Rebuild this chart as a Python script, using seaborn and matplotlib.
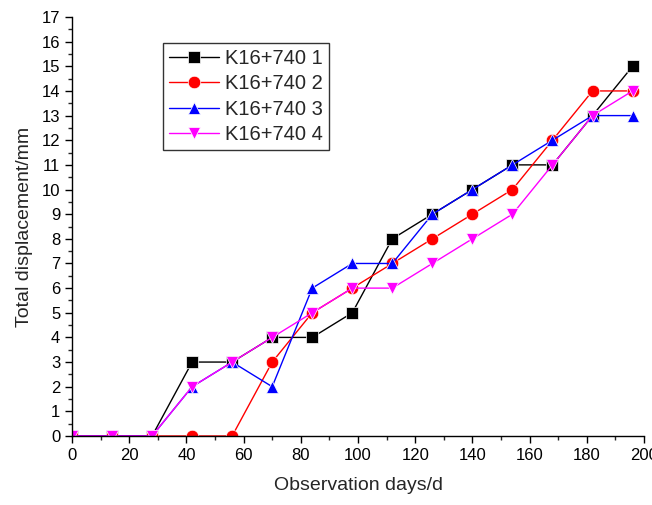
import matplotlib
matplotlib.use("Agg")
import matplotlib.pyplot as plt
import seaborn as sns
import pandas as pd
from matplotlib.ticker import MultipleLocator

days = [0, 14, 28, 42, 56, 70, 84, 98, 112, 126, 140, 154, 168, 182, 196]
s1 = [0, 0, 0, 3, 3, 4, 4, 5, 8, 9, 10, 11, 11, 13, 15]
s2 = [0, 0, 0, 0, 0, 3, 5, 6, 7, 8, 9, 10, 12, 14, 14]
s3 = [0, 0, 0, 2, 3, 2, 6, 7, 7, 9, 10, 11, 12, 13, 13]
s4 = [0, 0, 0, 2, 3, 4, 5, 6, 6, 7, 8, 9, 11, 13, 14]
names = ["K16+740 1", "K16+740 2", "K16+740 3", "K16+740 4"]
colors = ["#000000", "#ff0000", "#0000ff", "#ff00ff"]
markers = ["s", "o", "^", "v"]

rows = []
for n, vals in zip(names, [s1, s2, s3, s4]):
    for d, v in zip(days, vals):
        rows.append({"day": d, "disp": v, "series": n})
df = pd.DataFrame(rows)

sns.set_theme(style="ticks")
plt.rcParams["font.family"] = ["Liberation Sans", "DejaVu Sans"]

fig = plt.figure(figsize=(6.52, 5.05), dpi=100)
ax = fig.add_axes([72/652, 1-436/505, (644-72)/652, (436-17)/505])

sns.lineplot(data=df, x="day", y="disp", hue="series", style="series",
             palette=colors, markers=markers, dashes=False, ax=ax,
             linewidth=1, markersize=9, markeredgewidth=0.5, legend=True)

ax.set_xlim(0, 200)
ax.set_ylim(0, 17)
ax.xaxis.set_major_locator(MultipleLocator(20))
ax.xaxis.set_minor_locator(MultipleLocator(10))
ax.yaxis.set_major_locator(MultipleLocator(1))
ax.yaxis.set_minor_locator(MultipleLocator(0.5))
ax.tick_params(axis="both", which="major", direction="out", length=5, width=1, labelsize=12, colors="black")
ax.tick_params(axis="both", which="minor", direction="out", length=3, width=1)
for side in ["top", "right"]:
    ax.spines[side].set_visible(False)
for side in ["left", "bottom"]:
    ax.spines[side].set_color("black")
    ax.spines[side].set_linewidth(1)
ax.set_xlabel("Observation days/d", fontsize=14, labelpad=10)
ax.set_ylabel("Total displacement/mm", fontsize=14, labelpad=6)

leg = ax.legend(loc="upper left", bbox_to_anchor=(0.159, 0.938), fontsize=14.5,
                frameon=True, fancybox=False, edgecolor="black",
                handlelength=2.5, labelspacing=0.32, borderpad=0.3,
                handletextpad=0.3, borderaxespad=0)
leg.get_frame().set_linewidth(1)

fig.savefig("out.png", dpi=100)
